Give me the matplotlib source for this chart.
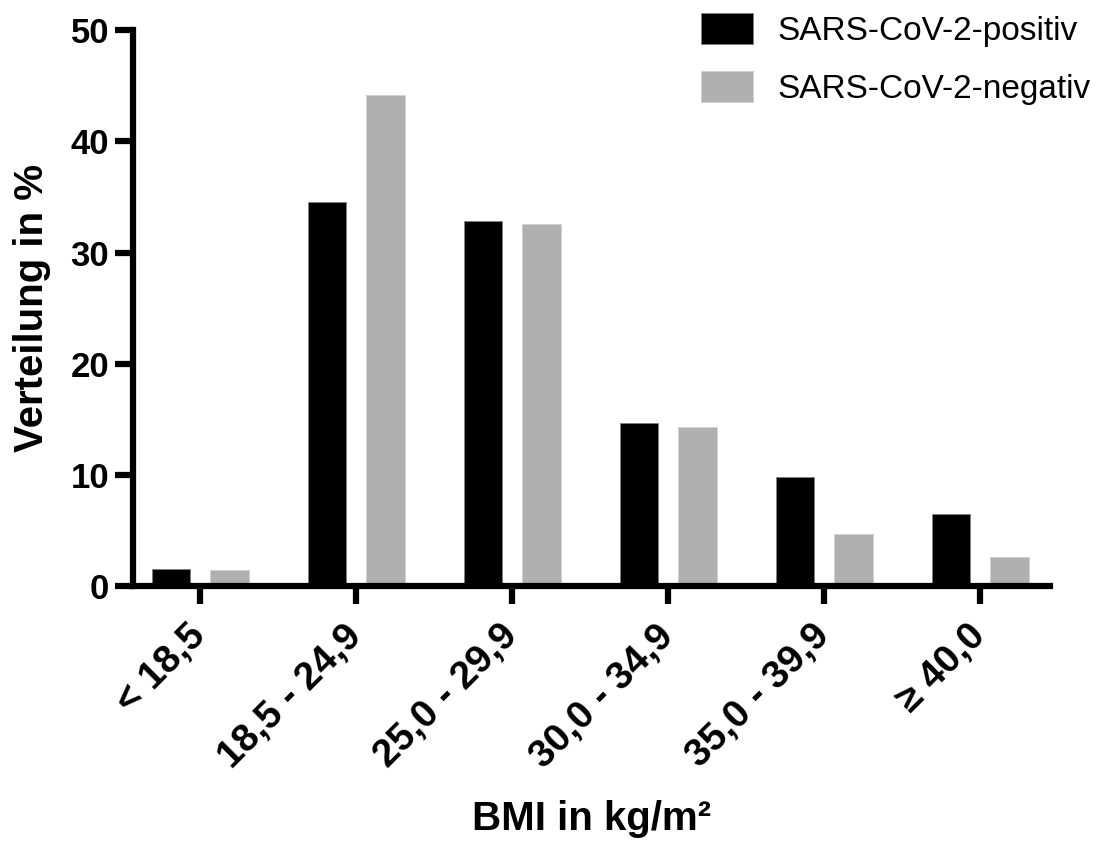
import numpy as np
import matplotlib
matplotlib.use("Agg")
import matplotlib.pyplot as plt

plt.rcParams['font.family'] = ['Liberation Sans', 'DejaVu Sans']

# Daten
kategorien = ["< 18,5", "18,5 - 24,9", "25,0 - 29,9", "30,0 - 34,9", "35,0 - 39,9", "≥ 40,0"]
positiv = [1.55, 34.5, 32.8, 14.7, 9.8, 6.5]
negativ = [1.5, 44.2, 32.6, 14.3, 4.7, 2.6]

fig = plt.figure(figsize=(11.07, 8.46), dpi=100)
ax = fig.add_axes([0.120, 0.307, 0.8285, 0.6575])

x = np.arange(len(kategorien))
w = 0.245
ax.bar(x - 0.185, positiv, w, color="black", edgecolor="#808080", linewidth=0.6,
       label="SARS-CoV-2-positiv", zorder=2)
ax.bar(x + 0.19, negativ, w, color="#b0b0b0", edgecolor="#d0d0d0", linewidth=0.6,
       label="SARS-CoV-2-negativ", zorder=2)

ax.set_xlim(-0.43, 5.45)
ax.set_ylim(0, 50)
ax.set_yticks([0, 10, 20, 30, 40, 50])
ax.set_xticks(x)
ax.set_xticklabels(kategorien, rotation=45, ha="right", va="center", rotation_mode="anchor",
                   fontsize=28, fontweight="bold")
for lab in ax.get_yticklabels():
    lab.set_fontsize(25)
    lab.set_fontweight("bold")

for s in ["top", "right"]:
    ax.spines[s].set_visible(False)
for s in ["left", "bottom"]:
    ax.spines[s].set_linewidth(4.5)
    ax.spines[s].set_zorder(3)
ax.tick_params(axis="both", width=4.5, length=13, pad=4)
ax.tick_params(axis="x", pad=19)

ax.set_ylabel("Verteilung in %", fontsize=29, fontweight="bold", labelpad=14)
ax.set_xlabel("BMI in kg/m²", fontsize=29, fontweight="bold")
ax.xaxis.set_label_coords(0.5, -0.385)

fig.legend(loc="upper left", bbox_to_anchor=(0.6152, 1.008), frameon=False, fontsize=24,
           borderpad=0.1, handlelength=1.56, handleheight=1.05, handletextpad=0.72,
           labelspacing=0.72)

fig.savefig("out.png", dpi=100)
